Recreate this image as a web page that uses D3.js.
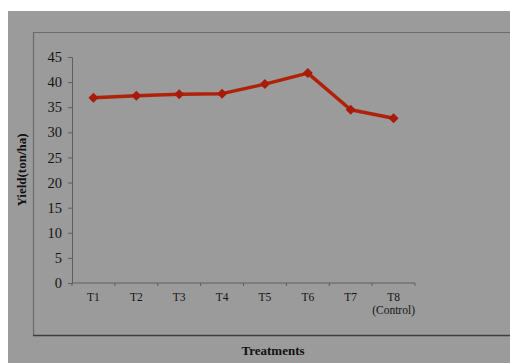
<!DOCTYPE html>
<html>
<head>
<meta charset="utf-8">
<script src="https://cdn.jsdelivr.net/npm/d3@7"></script>
<style>
  html, body { margin: 0; padding: 0; background: #ffffff; }
  svg { display: block; }
</style>
</head>
<body>
<svg id="chart" width="510" height="363"></svg>
<script>
// Treatment labels and yield (ton/ha) per treatment
const treatments = ["T1", "T2", "T3", "T4", "T5", "T6", "T7", "T8"];
const subLabels = ["", "", "", "", "", "", "", "(Control)"];
const yields = [36.9, 37.3, 37.6, 37.7, 39.6, 41.8, 34.5, 32.8];
const yTicks = [0, 5, 10, 15, 20, 25, 30, 35, 40, 45];

const svg = d3.select("#chart");
const serif = "'Liberation Serif', 'Times New Roman', serif";

// outer grey panel
svg.append("rect").attr("x", 8).attr("y", 11).attr("width", 502).attr("height", 352)
  .attr("fill", "#9b9b9b");

// inner frame
svg.append("path").attr("d", "M510,32.5 H33.5 V335.5")
  .attr("fill", "none").attr("stroke", "#6a6a6a").attr("stroke-width", 1.2);
svg.append("line").attr("x1", 33).attr("x2", 510).attr("y1", 335.5).attr("y2", 335.5)
  .attr("stroke", "#3e3e3e").attr("stroke-width", 1.5);

const x = d3.scaleBand().domain(treatments).range([72, 415]);
const y = d3.scaleLinear().domain([0, 45]).range([283, 57]);

// y axis
const yAxis = svg.append("g").attr("transform", "translate(72,0)")
  .call(d3.axisLeft(y).tickValues(yTicks).tickSize(4).tickPadding(6));
yAxis.select(".domain").attr("stroke", "#5e5e5e");
yAxis.selectAll(".tick line").attr("stroke", "#5e5e5e");
yAxis.selectAll("text").attr("fill", "#151515").style("font-family", serif).style("font-size", "14.5px");

// x axis with ticks on band boundaries
const xAxis = svg.append("g").attr("transform", "translate(0,283)");
xAxis.append("line").attr("x1", 72).attr("x2", 415).attr("stroke", "#5e5e5e");
const bounds = treatments.map(t => x(t)).concat([x.range()[1]]);
xAxis.selectAll("line.tk").data(bounds).join("line").attr("class", "tk")
  .attr("x1", d => d).attr("x2", d => d).attr("y1", 0).attr("y2", 3)
  .attr("stroke", "#5e5e5e");
xAxis.selectAll("text.lab").data(treatments).join("text").attr("class", "lab")
  .attr("x", d => x(d) + x.bandwidth() / 2).attr("y", 18)
  .attr("text-anchor", "middle").attr("fill", "#151515")
  .style("font-family", serif).style("font-size", "11.5px").text(d => d);
xAxis.selectAll("text.sub").data(treatments).join("text").attr("class", "sub")
  .attr("x", d => x(d) + x.bandwidth() / 2).attr("y", 31)
  .attr("text-anchor", "middle").attr("fill", "#151515")
  .style("font-family", serif).style("font-size", "11.5px")
  .text((d, i) => subLabels[i]);

// line and diamond markers
const cx = d => x(d) + x.bandwidth() / 2;
const line = d3.line().x((d, i) => cx(treatments[i])).y(d => y(d));
svg.append("path").datum(yields).attr("d", line)
  .attr("fill", "none").attr("stroke", "#b02208").attr("stroke-width", 3.5)
  .attr("stroke-linejoin", "round");
svg.selectAll("path.mk").data(yields).join("path").attr("class", "mk")
  .attr("transform", (d, i) => `translate(${cx(treatments[i])},${y(d)}) rotate(45)`)
  .attr("d", d3.symbol(d3.symbolSquare, 50))
  .attr("fill", "#a81a0a");

// axis titles
svg.append("text").attr("transform", "translate(26,170) rotate(-90)")
  .attr("text-anchor", "middle").attr("fill", "#111")
  .style("font-family", serif).style("font-weight", "bold").style("font-size", "13px")
  .text("Yield(ton/ha)");
svg.append("text").attr("x", 273).attr("y", 355)
  .attr("text-anchor", "middle").attr("fill", "#111")
  .style("font-family", serif).style("font-weight", "bold").style("font-size", "13px")
  .text("Treatments");
</script>
</body>
</html>
